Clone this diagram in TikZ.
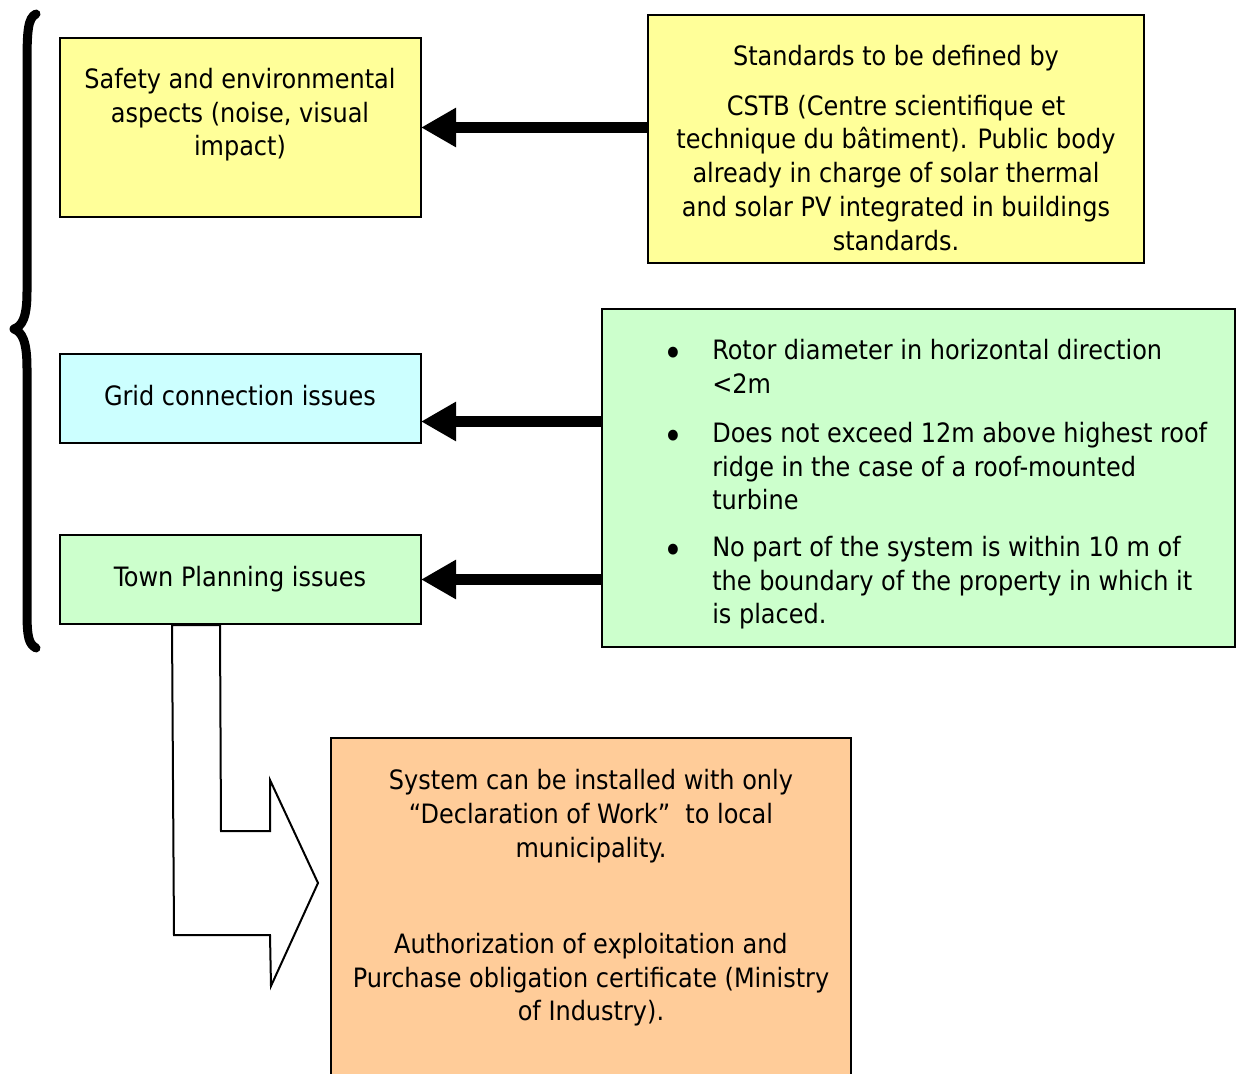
\documentclass[tikz,border=0pt]{standalone}
\usepackage{fontspec}
\setmainfont{DejaVu Sans Condensed}
\usetikzlibrary{arrows.meta,calc}
\definecolor{ylw}{HTML}{FFFF99}
\definecolor{cyn}{HTML}{CCFFFF}
\definecolor{grn}{HTML}{CCFFCC}
\definecolor{org}{HTML}{FFCC99}
\def\u{0.75pt}
\begin{document}
\begin{tikzpicture}[x=0.75pt,y=-0.75pt,
  box/.style={draw=black, line width=1pt, inner sep=0pt, outer sep=0pt, anchor=north west},
  txt/.style={inner sep=0pt, align=center, anchor=north, font=\fontsize{20pt}{25.3pt}\selectfont},
  btxt/.style={inner sep=0pt, align=left, anchor=north west, font=\fontsize{20pt}{25.3pt}\selectfont},
  bul/.style={inner sep=0pt, anchor=center, font=\fontsize{28pt}{30pt}\selectfont},
  bigarrow/.style={line width=11*\u, -{Triangle[length=35*\u, width=37*\u]}},
  bracestyle/.style={line width=9*\u, line cap=round, line join=round}]
\clip (0,0) rectangle (1236,1074);
\fill[white] (0,0) rectangle (1236,1074);
% brace
\draw[bracestyle] (36,14) .. controls (28,18) and (27,30) .. (27,65) -- (27,292)
  .. controls (27,318) and (22,326) .. (14,329)
  .. controls (22,332) and (27,341) .. (27,368) -- (27,612)
  .. controls (27,638) and (29,644) .. (36,648);
% boxes
\node[box, fill=ylw, minimum width=361*\u, minimum height=179*\u] (b1) at (60,38) {};
\node[box, fill=ylw, minimum width=496*\u, minimum height=248*\u] (b2) at (648,15) {};
\node[box, fill=cyn, minimum width=361*\u, minimum height=89*\u] (b3) at (60,354) {};
\node[box, fill=grn, minimum width=361*\u, minimum height=89*\u] (b4) at (60,535) {};
\node[box, fill=grn, minimum width=633*\u, minimum height=338*\u] (b5) at (602,309) {};
\node[box, fill=org, minimum width=520*\u, minimum height=350*\u] (b6) at (331,738) {};
% texts
\node[txt] (t1) at (240,68) {Safety and environmental\\aspects (noise, visual\\impact)};
\node[txt] (t2) at (896,45) {Standards to be defined by\\[12pt]CSTB (Centre scientifique et\\technique du bâtiment). Public body\\already in charge of solar thermal\\and solar PV integrated in buildings\\standards.};
\node[txt] (t3) at (240,385) {Grid connection issues};
\node[txt] (t4) at (240,566) {Town Planning issues};
\node[txt] (t6) at (591,769) {System can be installed with only\\“Declaration of Work”~ to local\\municipality.\\[47pt]Authorization of exploitation and\\Purchase obligation certificate (Ministry\\of Industry).};
% bullets
\node[bul] (d1) at (673,357) {•};
\node[bul] (d2) at (673,440) {•};
\node[bul] (d3) at (673,554) {•};
\node[btxt] (i1) at (712,339) {Rotor diameter in horizontal direction\\<2m};
\node[btxt] (i2) at (712,422) {Does not exceed 12m above highest roof\\ridge in the case of a roof-mounted\\turbine};
\node[btxt] (i3) at (712,536) {No part of the system is within 10 m of\\the boundary of the property in which it\\is placed.};
% arrows
\draw[bigarrow] (b1.east -| b2.west) -- (b1.east);
\draw[bigarrow] ($(b3.east -| b5.west)+(0,23)$) -- ($(b3.east)+(0,23)$);
\draw[bigarrow] (b4.east -| b5.west) -- (b4.east);
% bent outline arrow
\draw[line width=1.5pt, fill=white, line join=miter] (172,625) -- (220,625) -- (221,831) -- (270,831) -- (270,780)
  -- (318,883) -- (271,986) -- (270,935) -- (174,935) -- cycle;
\end{tikzpicture}
\end{document}
